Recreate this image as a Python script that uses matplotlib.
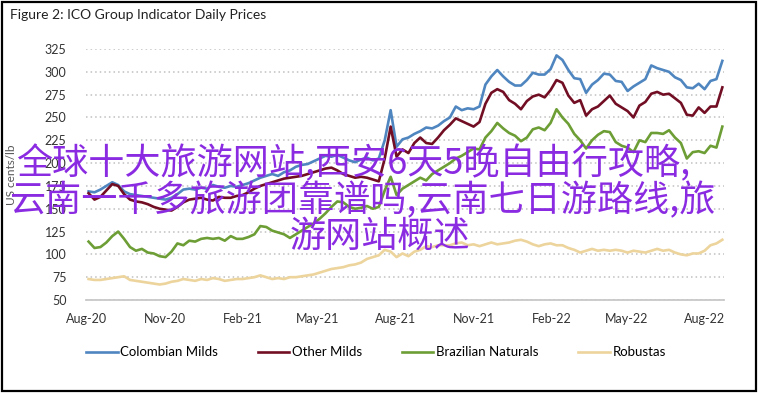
import pandas as pd
import matplotlib
matplotlib.use("Agg")
import matplotlib.pyplot as plt
import matplotlib.dates as mdates
from matplotlib.patches import Rectangle

# weekly readings, first Monday of Aug 2020 onwards
dates = pd.date_range("2020-08-03", periods=108, freq="7D")

colombian = [169, 168, 171, 175, 179, 176, 169, 166, 165, 164, 163, 162, 161, 160, 162, 166,
             171, 172, 171, 173, 172, 176, 174, 173, 175, 174, 176, 178, 181, 184, 186, 188,
             186, 190, 192, 196, 198, 199, 202, 205, 208, 207, 209, 206, 203, 201, 204, 206,
             203, 205, 225, 258, 218, 226, 228, 232, 235, 239, 238, 241, 246, 250, 262, 258,
             260, 259, 262, 286, 295, 302, 295, 289, 285, 285, 291, 299, 297, 297, 303, 318,
             313, 302, 293, 292, 277, 286, 291, 298, 297, 290, 289, 279, 284, 288, 292, 307,
             304, 302, 300, 294, 291, 283, 282, 287, 281, 290, 292, 312]

other_milds = [167, 160, 163, 170, 177, 175, 166, 160, 158, 157, 155, 152, 150, 149, 148, 152,
               157, 160, 161, 162, 160, 159, 163, 162, 162, 164, 165, 168, 172, 175, 177, 179,
               181, 183, 184, 185, 186, 188, 190, 192, 194, 195, 192, 188, 186, 184, 185, 184,
               182, 180, 205, 240, 207, 215, 211, 222, 228, 222, 221, 228, 236, 242, 249, 246,
               243, 240, 245, 265, 277, 281, 278, 269, 265, 259, 268, 273, 275, 272, 280, 291,
               288, 274, 266, 269, 252, 259, 262, 268, 274, 265, 261, 257, 250, 263, 267, 276,
               278, 275, 276, 271, 266, 253, 252, 261, 255, 262, 262, 283]

brazilian = [114, 107, 108, 113, 120, 125, 117, 108, 104, 106, 102, 101, 98, 97, 103, 112,
             110, 115, 114, 117, 118, 117, 118, 115, 120, 117, 117, 119, 122, 131, 130, 126,
             124, 122, 118, 122, 126, 130, 134, 139, 145, 152, 158, 157, 152, 150, 151, 153,
             150, 152, 170, 185, 165, 172, 176, 180, 184, 181, 188, 192, 196, 200, 205, 208,
             212, 216, 215, 228, 235, 244, 238, 233, 230, 224, 228, 237, 239, 236, 244, 259,
             250, 243, 232, 225, 216, 225, 231, 235, 234, 223, 219, 217, 212, 225, 223, 233,
             233, 232, 236, 228, 222, 205, 212, 213, 211, 219, 217, 240]

robustas = [73, 72, 72, 73, 74, 75, 76, 72, 71, 70, 69, 68, 67, 68, 70, 71,
            73, 72, 71, 73, 72, 74, 73, 71, 72, 73, 73, 74, 75, 77, 75, 73,
            74, 73, 75, 75, 76, 77, 78, 80, 82, 84, 85, 86, 88, 89, 91, 95,
            97, 99, 105, 103, 97, 101, 98, 103, 105, 109, 108, 110, 110, 110, 112, 113,
            110, 111, 109, 111, 113, 111, 112, 113, 115, 116, 114, 111, 109, 111, 112, 110,
            110, 107, 105, 102, 104, 106, 104, 105, 104, 105, 104, 102, 104, 103, 102, 104,
            106, 104, 105, 102, 100, 99, 101, 101, 104, 110, 112, 116]

names = ["Colombian Milds", "Other Milds", "Brazilian Naturals", "Robustas"]
colors = ["#4f86c0", "#720e24", "#6d9e35", "#ecd49c"]

overlay = ["全球十大旅游网站,西安6天5晚自由行攻略,",
           "云南一千多旅游团靠谱吗,云南七日游路线,旅",
           "游网站概述"]

fig = plt.figure(figsize=(7.58, 3.93), dpi=100)
ax = fig.add_axes([0.1135, 0.2366, 0.8417, 0.6387])

for vals, name, c in zip([colombian, other_milds, brazilian, robustas], names, colors):
    ax.plot(dates, vals, color=c, lw=1.9, label=name, solid_joinstyle="round")

ax.set_ylim(50, 325)
ax.set_yticks(range(50, 326, 25))
ax.set_xlim(pd.Timestamp("2020-07-31"), pd.Timestamp("2022-08-24"))
ax.xaxis.set_major_locator(mdates.MonthLocator(bymonth=[2, 5, 8, 11]))
ax.xaxis.set_major_formatter(mdates.DateFormatter("%b-%y"))

ax.grid(axis="y", color="#c0c0c0", lw=1.1, linestyle=(0, (1, 2)))
ax.set_axisbelow(True)
for s in ["top", "right", "left"]:
    ax.spines[s].set_visible(False)
ax.spines["bottom"].set_color("#c8c8c8")
ax.spines["bottom"].set_linewidth(1.3)
ax.tick_params(length=0, labelsize=9, labelcolor="#333333")
ax.tick_params(axis="y", pad=14)
ax.tick_params(axis="x", pad=9)
for lab in ax.get_xticklabels() + ax.get_yticklabels():
    lab.set_family("Lato")

ax.set_ylabel("US cents/lb", fontsize=8.5, color="#555555", family="Lato", labelpad=20)

fig.text(0.013, 0.962, "Figure 2: ICO Group Indicator Daily Prices", fontsize=10,
         family="Lato", color="#222222", va="center")

fig.legend(loc="center", bbox_to_anchor=(0.496, 0.104), ncol=4, frameon=False,
           prop={"family": "Lato", "size": 9.5}, handlelength=2.4, handletextpad=0.2,
           columnspacing=3.0)

fig.add_artist(Rectangle((0.003, 0.004), 0.994, 0.992, transform=fig.transFigure,
                         fill=False, edgecolor="black", lw=1.6))

ys = [1 - 164 / 393, 1 - 201 / 393, 1 - 237 / 393]
xs = [353 / 758, 363 / 758, 380 / 758]
for t, x, y in zip(overlay, xs, ys):
    fig.text(x, y, t, fontsize=26, color="#8a2be2", ha="center", va="center",
             family=["Noto Sans CJK SC", "DejaVu Sans"], zorder=10)

fig.savefig("out.png", dpi=100)
